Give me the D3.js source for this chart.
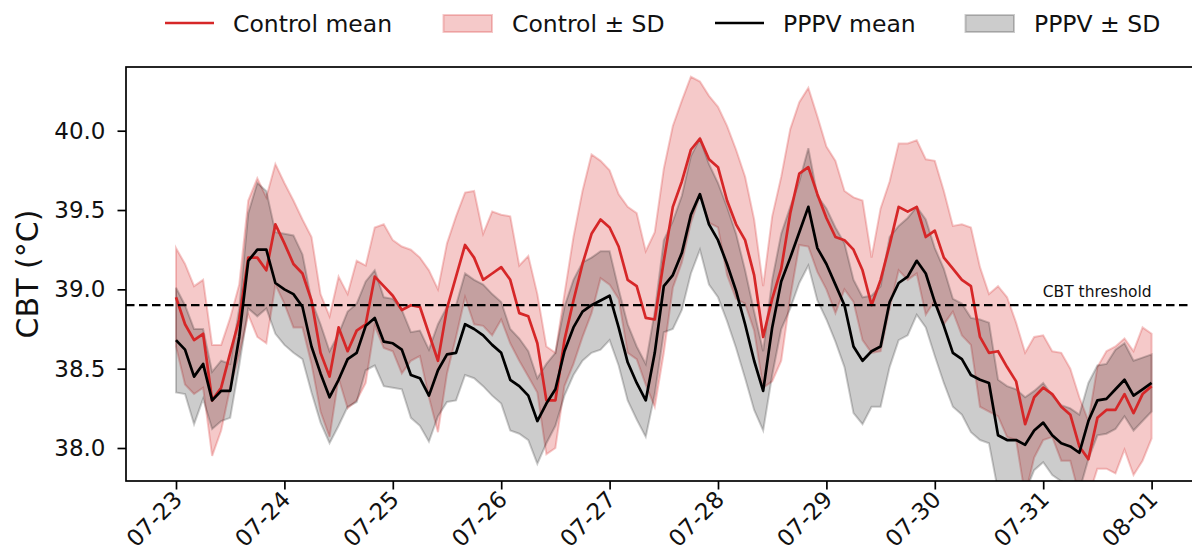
<!DOCTYPE html>
<html>
<head>
<meta charset="utf-8">
<script src="https://cdn.jsdelivr.net/npm/d3@7"></script>
<style>
  html, body { margin: 0; padding: 0; background: #fff; }
  svg { display: block; font-family: "DejaVu Sans", "Liberation Sans", sans-serif; }
</style>
</head>
<body>
<svg id="chart" width="1192" height="558"></svg>
<script>
// Day labels on the time axis (one tick per midnight)
const dayLabels = ["07-23", "07-24", "07-25", "07-26", "07-27", "07-28", "07-29", "07-30", "07-31", "08-01"];

// Samples every 2 hours from 07-23 00:00 to 08-01 00:00 (core body temperature, °C)
const sampleStepHours = 2;

const controlMean = [
  38.95, 38.78, 38.68, 38.72, 38.30, 38.38, 38.60, 38.81, 39.20, 39.20, 39.12, 39.41,
  39.29, 39.16, 39.10, 38.93, 38.60, 38.45, 38.76, 38.61, 38.74, 38.78, 39.08, 39.02,
  38.96, 38.87, 38.90, 38.89, 38.72, 38.55, 38.88, 39.08, 39.28, 39.20, 39.06, 39.10,
  39.14, 39.06, 38.85, 38.83, 38.66, 38.30, 38.30, 38.68, 38.93, 39.16, 39.35, 39.44,
  39.39, 39.27, 39.06, 39.02, 38.82, 38.81, 39.18, 39.52, 39.68, 39.88, 39.95, 39.82,
  39.77, 39.56, 39.41, 39.31, 39.09, 38.70, 38.94, 39.13, 39.48, 39.73, 39.77, 39.60,
  39.45, 39.33, 39.31, 39.25, 39.12, 38.90, 39.06, 39.28, 39.52, 39.49, 39.52, 39.33,
  39.37, 39.20, 39.13, 39.06, 39.02, 38.70, 38.60, 38.61, 38.51, 38.42, 38.15, 38.32,
  38.38, 38.34, 38.26, 38.21, 38.01, 37.93, 38.19, 38.24, 38.24, 38.34, 38.22, 38.34,
  38.39
];

const controlSd = [
  0.31, 0.38, 0.34, 0.34, 0.35, 0.27, 0.22, 0.22, 0.36, 0.50, 0.46, 0.38,
  0.38, 0.40, 0.34, 0.40, 0.37, 0.38, 0.32, 0.36, 0.44, 0.37, 0.31, 0.39,
  0.35, 0.40, 0.35, 0.31, 0.40, 0.45, 0.41, 0.38, 0.33, 0.42, 0.29, 0.39,
  0.33, 0.40, 0.30, 0.38, 0.31, 0.34, 0.30, 0.29, 0.40, 0.46, 0.50, 0.37,
  0.36, 0.33, 0.46, 0.46, 0.42, 0.55, 0.58, 0.51, 0.51, 0.46, 0.36, 0.40,
  0.38, 0.47, 0.47, 0.40, 0.35, 0.32, 0.52, 0.58, 0.53, 0.45, 0.50, 0.49,
  0.45, 0.48, 0.31, 0.33, 0.44, 0.30, 0.45, 0.40, 0.40, 0.43, 0.42, 0.49,
  0.44, 0.42, 0.27, 0.35, 0.37, 0.44, 0.37, 0.41, 0.44, 0.37, 0.45, 0.38,
  0.33, 0.27, 0.34, 0.29, 0.31, 0.24, 0.32, 0.37, 0.40, 0.35, 0.39, 0.42,
  0.33
];

const pppvMean = [
  38.68, 38.62, 38.45, 38.53, 38.30, 38.36, 38.36, 38.70, 39.18, 39.25, 39.25, 39.04,
  39.00, 38.97, 38.89, 38.64, 38.47, 38.32, 38.43, 38.56, 38.60, 38.77, 38.82, 38.67,
  38.66, 38.62, 38.46, 38.44, 38.33, 38.49, 38.59, 38.60, 38.78, 38.75, 38.71, 38.65,
  38.60, 38.43, 38.39, 38.33, 38.17, 38.28, 38.37, 38.61, 38.76, 38.86, 38.90, 38.93,
  38.96, 38.76, 38.54, 38.41, 38.30, 38.60, 39.02, 39.09, 39.23, 39.47, 39.60, 39.41,
  39.31, 39.16, 38.99, 38.78, 38.55, 38.36, 38.76, 39.05, 39.20, 39.36, 39.52, 39.26,
  39.16, 39.03, 38.90, 38.64, 38.55, 38.61, 38.64, 38.92, 39.04, 39.08, 39.18, 39.10,
  38.92, 38.77, 38.60, 38.56, 38.46, 38.43, 38.41, 38.08, 38.05, 38.05, 38.02, 38.11,
  38.16, 38.08, 38.03, 38.01, 37.97, 38.17, 38.30, 38.31, 38.37, 38.43, 38.33, 38.37,
  38.41
];

const pppvSd = [
  0.33, 0.28, 0.30, 0.22, 0.18, 0.19, 0.17, 0.18, 0.30, 0.42, 0.37, 0.32,
  0.35, 0.37, 0.33, 0.29, 0.31, 0.29, 0.29, 0.30, 0.31, 0.28, 0.30, 0.28,
  0.28, 0.25, 0.27, 0.30, 0.29, 0.29, 0.30, 0.30, 0.32, 0.31, 0.32, 0.32,
  0.32, 0.32, 0.30, 0.28, 0.27, 0.25, 0.23, 0.28, 0.30, 0.31, 0.30, 0.31,
  0.28, 0.24, 0.24, 0.23, 0.23, 0.26, 0.29, 0.34, 0.36, 0.37, 0.35, 0.38,
  0.36, 0.36, 0.36, 0.34, 0.31, 0.25, 0.30, 0.30, 0.32, 0.32, 0.37, 0.33,
  0.35, 0.36, 0.39, 0.42, 0.40, 0.35, 0.38, 0.41, 0.36, 0.37, 0.34, 0.34,
  0.34, 0.36, 0.34, 0.35, 0.36, 0.38, 0.38, 0.35, 0.34, 0.32, 0.30, 0.25,
  0.25, 0.25, 0.24, 0.24, 0.24, 0.24, 0.22, 0.22, 0.25, 0.23, 0.22, 0.20,
  0.18
];

const thresholdValue = 38.9;
const thresholdLabel = "CBT threshold";
const yTickValues = [38.0, 38.5, 39.0, 39.5, 40.0];
const yLabel = "CBT (°C)";

const legendItems = [
  { label: "Control mean", kind: "line", color: "#d62728" },
  { label: "Control ± SD", kind: "band", color: "#d62728", opacity: 0.25 },
  { label: "PPPV mean", kind: "line", color: "#000000" },
  { label: "PPPV ± SD", kind: "band", color: "#000000", opacity: 0.2 }
];

// ---------------------------------------------------------------------------
const HOUR = 3600e3;
const start = Date.UTC(2024, 6, 23);
const times = controlMean.map((_, i) => new Date(start + i * sampleStepHours * HOUR));
const dayTicks = dayLabels.map((_, i) => new Date(start + i * 24 * HOUR));
const lastTime = times[times.length - 1];

const control = times.map((t, i) => ({ t, m: controlMean[i], sd: controlSd[i] }));
const pppv = times.map((t, i) => ({ t, m: pppvMean[i], sd: pppvSd[i] }));

const plot = { left: 126, top: 67, bottom: 481, right: 1201.6 };
const pad = 11.07 * HOUR;

const x = d3.scaleUtc()
  .domain([new Date(start - pad), new Date(+lastTime + pad)])
  .range([plot.left, plot.right]);
const y = d3.scaleLinear()
  .domain([37.792, 40.4015])
  .range([plot.bottom, plot.top]);

const svg = d3.select("#chart");

svg.append("defs").append("clipPath").attr("id", "plot-clip")
  .append("rect")
  .attr("x", plot.left).attr("y", plot.top)
  .attr("width", plot.right - plot.left).attr("height", plot.bottom - plot.top);

const layer = svg.append("g").attr("clip-path", "url(#plot-clip)");

const band = d3.area()
  .x(d => x(d.t))
  .y0(d => y(d.m - d.sd))
  .y1(d => y(d.m + d.sd));
const line = d3.line()
  .x(d => x(d.t))
  .y(d => y(d.m));

// SD bands first, then the means on top
layer.append("path").datum(control).attr("d", band)
  .attr("fill", "#d62728").attr("fill-opacity", 0.25)
  .attr("stroke", "#d62728").attr("stroke-opacity", 0.25).attr("stroke-width", 2);
layer.append("path").datum(pppv).attr("d", band)
  .attr("fill", "#000").attr("fill-opacity", 0.2)
  .attr("stroke", "#000").attr("stroke-opacity", 0.2).attr("stroke-width", 2);

layer.append("path").datum(control).attr("d", line)
  .attr("fill", "none").attr("stroke", "#d62728").attr("stroke-width", 2.7)
  .attr("stroke-linejoin", "round");
layer.append("path").datum(pppv).attr("d", line)
  .attr("fill", "none").attr("stroke", "#000").attr("stroke-width", 2.7)
  .attr("stroke-linejoin", "round");

// Threshold
layer.append("line")
  .attr("x1", plot.left).attr("x2", plot.right)
  .attr("y1", y(thresholdValue)).attr("y2", y(thresholdValue))
  .attr("stroke", "#000").attr("stroke-width", 2.3)
  .attr("stroke-dasharray", "8.5,4.5");
svg.append("text")
  .attr("x", x(lastTime)).attr("y", y(thresholdValue) - 8)
  .attr("text-anchor", "end")
  .attr("font-size", 15.5).attr("fill", "#111")
  .text(thresholdLabel);

// Frame
svg.append("rect")
  .attr("x", plot.left).attr("y", plot.top)
  .attr("width", plot.right - plot.left).attr("height", plot.bottom - plot.top)
  .attr("fill", "none").attr("stroke", "#000").attr("stroke-width", 1.7);

// Y axis
const yAxis = svg.append("g")
  .attr("transform", `translate(${plot.left},0)`)
  .call(d3.axisLeft(y).tickValues(yTickValues).tickFormat(d3.format(".1f"))
    .tickSize(8.5).tickPadding(12));
yAxis.select(".domain").remove();
yAxis.selectAll(".tick line").attr("stroke", "#000").attr("stroke-width", 1.7);
yAxis.selectAll(".tick text").attr("font-size", 23).attr("fill", "#111")
  .attr("font-family", "DejaVu Sans, sans-serif");

// X axis
const xAxis = svg.append("g")
  .attr("transform", `translate(0,${plot.bottom})`)
  .call(d3.axisBottom(x).tickValues(dayTicks).tickFormat((d, i) => dayLabels[i])
    .tickSize(8.5));
xAxis.select(".domain").remove();
xAxis.selectAll(".tick line").attr("stroke", "#000").attr("stroke-width", 1.7);
xAxis.selectAll(".tick text")
  .attr("font-size", 23).attr("fill", "#111")
  .attr("font-family", "DejaVu Sans, sans-serif")
  .attr("text-anchor", "end")
  .attr("y", 0).attr("dy", 0)
  .attr("transform", "translate(7,20) rotate(-45)");

// Y label
svg.append("text")
  .attr("transform", `translate(38,${(plot.top + plot.bottom) / 2}) rotate(-90)`)
  .attr("text-anchor", "middle")
  .attr("font-size", 30).attr("fill", "#111")
  .text(yLabel);

// Legend
const legendX = [165, 443, 715, 965];
const legend = svg.append("g");
legendItems.forEach((item, i) => {
  const g = legend.append("g").attr("transform", `translate(${legendX[i]},0)`);
  if (item.kind === "line") {
    g.append("line").attr("x1", 0).attr("x2", 49).attr("y1", 23).attr("y2", 23)
      .attr("stroke", item.color).attr("stroke-width", 2.6);
  } else {
    g.append("rect").attr("x", 0.5).attr("y", 15).attr("width", 48.5).attr("height", 17)
      .attr("fill", item.color).attr("fill-opacity", item.opacity)
      .attr("stroke", item.color).attr("stroke-opacity", item.opacity).attr("stroke-width", 2);
  }
  g.append("text").attr("x", item.kind === "line" ? 68 : 69).attr("y", 31.5)
    .attr("font-size", 23.5).attr("fill", "#111")
    .text(item.label);
});
</script>
</body>
</html>
